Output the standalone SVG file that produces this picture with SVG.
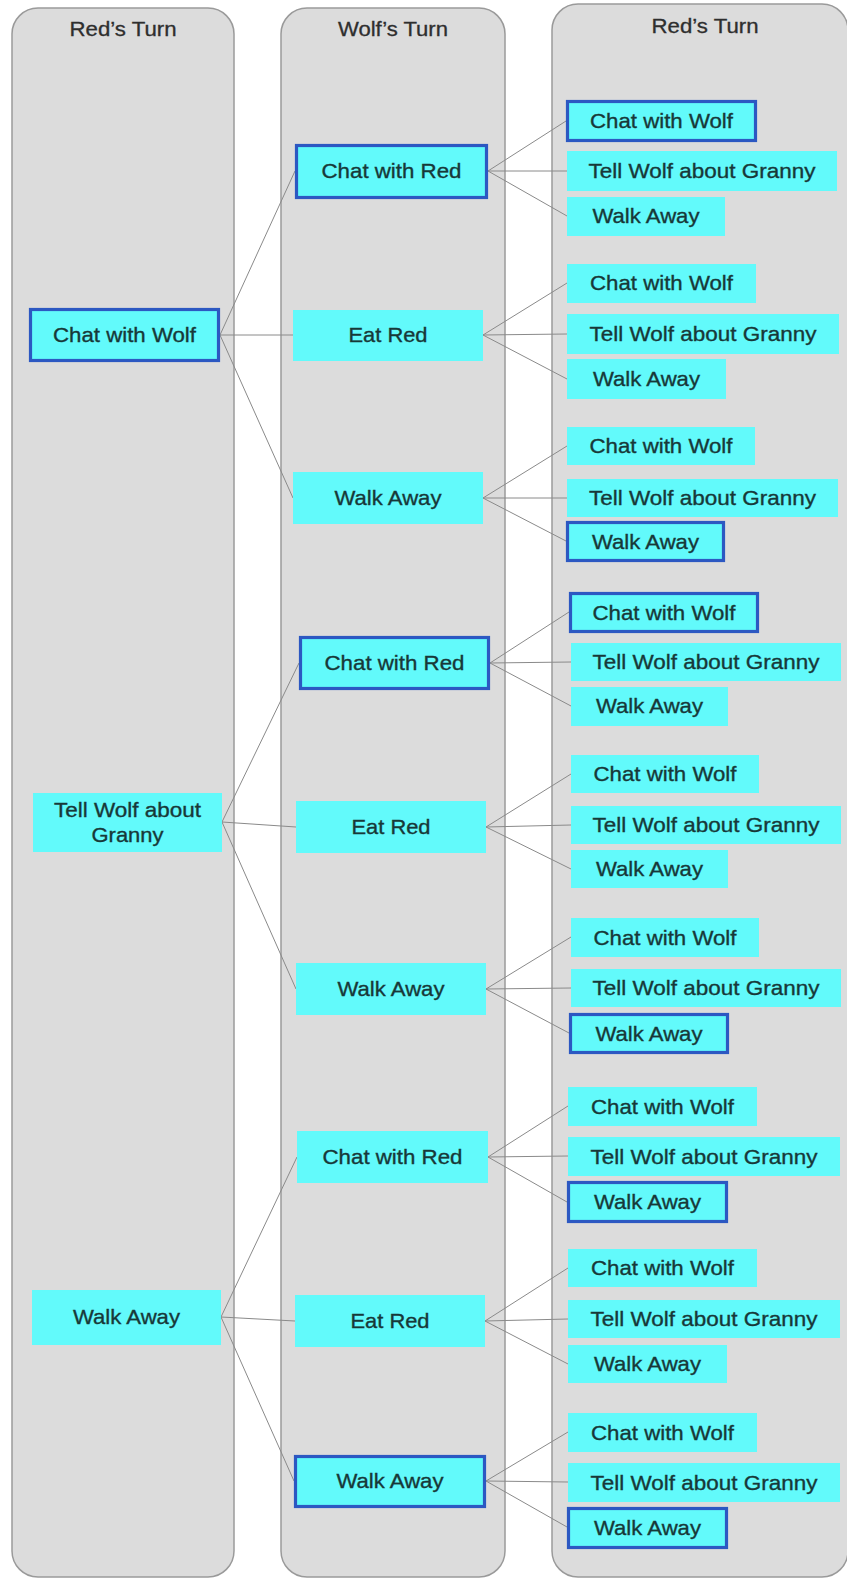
<svg xmlns="http://www.w3.org/2000/svg" width="847" height="1580" viewBox="0 0 847 1580">
<style>
.col{fill:#dcdcdc;stroke:#9a9a9a;stroke-width:1.5}
.ttl{font-family:"Liberation Sans",Arial,sans-serif;font-size:20px;fill:#2e2e2e;stroke:#2e2e2e;stroke-width:0.3;text-anchor:middle}
.box{fill:#62fafb}
.bold{fill:#62fafb;stroke:#2c58c2;stroke-width:3.2}
.t{font-family:"Liberation Sans",Arial,sans-serif;font-size:21px;fill:#173838;stroke:#173838;stroke-width:0.35;text-anchor:middle}
.cn line{stroke:#8a8a8a;stroke-width:1;fill:none}
</style>
<rect width="847" height="1580" fill="#ffffff"/>
<g id="lanes">
<rect class="col" x="12" y="8" width="222" height="1569" rx="26"/>
<rect class="col" x="281" y="8" width="224" height="1569" rx="26"/>
<rect class="col" x="552" y="4" width="296" height="1573" rx="26"/>
<text class="ttl" x="123" y="36" textLength="107" lengthAdjust="spacingAndGlyphs">Red’s Turn</text>
<text class="ttl" x="393" y="36" textLength="110" lengthAdjust="spacingAndGlyphs">Wolf’s Turn</text>
<text class="ttl" x="705" y="33" textLength="107" lengthAdjust="spacingAndGlyphs">Red’s Turn</text>
</g>
<g id="connectors" class="cn">
<line x1="220" y1="335" x2="295" y2="171"/>
<line x1="220" y1="335" x2="293" y2="335"/>
<line x1="220" y1="335" x2="293" y2="498"/>
<line x1="222" y1="822" x2="299" y2="663"/>
<line x1="222" y1="822" x2="296" y2="827"/>
<line x1="222" y1="822" x2="296" y2="989"/>
<line x1="221" y1="1317" x2="297" y2="1157"/>
<line x1="221" y1="1317" x2="295" y2="1321"/>
<line x1="221" y1="1317" x2="294" y2="1481"/>
<line x1="488" y1="171" x2="566" y2="121"/>
<line x1="488" y1="171" x2="567" y2="171"/>
<line x1="488" y1="171" x2="567" y2="216"/>
<line x1="483" y1="335" x2="567" y2="283"/>
<line x1="483" y1="335" x2="567" y2="334"/>
<line x1="483" y1="335" x2="567" y2="379"/>
<line x1="483" y1="498" x2="567" y2="446"/>
<line x1="483" y1="498" x2="567" y2="498"/>
<line x1="483" y1="498" x2="566" y2="541"/>
<line x1="490" y1="663" x2="569" y2="612"/>
<line x1="490" y1="663" x2="571" y2="662"/>
<line x1="490" y1="663" x2="571" y2="706"/>
<line x1="486" y1="827" x2="571" y2="774"/>
<line x1="486" y1="827" x2="571" y2="825"/>
<line x1="486" y1="827" x2="571" y2="869"/>
<line x1="486" y1="989" x2="571" y2="937"/>
<line x1="486" y1="989" x2="571" y2="988"/>
<line x1="486" y1="989" x2="569" y2="1033"/>
<line x1="488" y1="1157" x2="568" y2="1106"/>
<line x1="488" y1="1157" x2="568" y2="1156"/>
<line x1="488" y1="1157" x2="567" y2="1202"/>
<line x1="485" y1="1321" x2="568" y2="1268"/>
<line x1="485" y1="1321" x2="568" y2="1319"/>
<line x1="485" y1="1321" x2="568" y2="1364"/>
<line x1="486" y1="1481" x2="568" y2="1432"/>
<line x1="486" y1="1481" x2="568" y2="1482"/>
<line x1="486" y1="1481" x2="567" y2="1527"/>
</g>
<g id="n1a"><rect class="bold" x="30.5" y="309.5" width="188" height="51"/><text class="t" x="124.5" y="342" textLength="143" lengthAdjust="spacingAndGlyphs">Chat with Wolf</text></g>
<g id="n1b"><rect class="box" x="33" y="793" width="189" height="59"/><text class="t" x="127.5" y="817" textLength="147" lengthAdjust="spacingAndGlyphs">Tell Wolf about</text><text class="t" x="127.5" y="842" textLength="72" lengthAdjust="spacingAndGlyphs">Granny</text></g>
<g id="n1c"><rect class="box" x="32" y="1290" width="189" height="55"/><text class="t" x="126.5" y="1324" textLength="107" lengthAdjust="spacingAndGlyphs">Walk Away</text></g>
<g id="n2a"><rect class="bold" x="296.5" y="145.5" width="190" height="52"/><text class="t" x="391.5" y="178" textLength="140" lengthAdjust="spacingAndGlyphs">Chat with Red</text></g>
<g id="n2b"><rect class="box" x="293" y="310" width="190" height="51"/><text class="t" x="388" y="342" textLength="79" lengthAdjust="spacingAndGlyphs">Eat Red</text></g>
<g id="n2c"><rect class="box" x="293" y="472" width="190" height="52"/><text class="t" x="388" y="505" textLength="107" lengthAdjust="spacingAndGlyphs">Walk Away</text></g>
<g id="n2d"><rect class="bold" x="300.5" y="637.5" width="188" height="51"/><text class="t" x="394.5" y="670" textLength="140" lengthAdjust="spacingAndGlyphs">Chat with Red</text></g>
<g id="n2e"><rect class="box" x="296" y="801" width="190" height="52"/><text class="t" x="391" y="834" textLength="79" lengthAdjust="spacingAndGlyphs">Eat Red</text></g>
<g id="n2f"><rect class="box" x="296" y="963" width="190" height="52"/><text class="t" x="391" y="996" textLength="107" lengthAdjust="spacingAndGlyphs">Walk Away</text></g>
<g id="n2g"><rect class="box" x="297" y="1131" width="191" height="52"/><text class="t" x="392.5" y="1164" textLength="140" lengthAdjust="spacingAndGlyphs">Chat with Red</text></g>
<g id="n2h"><rect class="box" x="295" y="1295" width="190" height="52"/><text class="t" x="390" y="1328" textLength="79" lengthAdjust="spacingAndGlyphs">Eat Red</text></g>
<g id="n2i"><rect class="bold" x="295.5" y="1456.5" width="189" height="50"/><text class="t" x="390" y="1488" textLength="107" lengthAdjust="spacingAndGlyphs">Walk Away</text></g>
<g id="g1a"><rect class="bold" x="567.5" y="101.5" width="188" height="39"/><text class="t" x="661.5" y="128" textLength="143" lengthAdjust="spacingAndGlyphs">Chat with Wolf</text></g>
<g id="g1b"><rect class="box" x="567" y="151" width="270" height="40"/><text class="t" x="702" y="178" textLength="227" lengthAdjust="spacingAndGlyphs">Tell Wolf about Granny</text></g>
<g id="g1c"><rect class="box" x="567" y="197" width="158" height="39"/><text class="t" x="646" y="223" textLength="107" lengthAdjust="spacingAndGlyphs">Walk Away</text></g>
<g id="g2a"><rect class="box" x="567" y="264" width="189" height="39"/><text class="t" x="661.5" y="290" textLength="143" lengthAdjust="spacingAndGlyphs">Chat with Wolf</text></g>
<g id="g2b"><rect class="box" x="567" y="314" width="272" height="40"/><text class="t" x="703" y="341" textLength="227" lengthAdjust="spacingAndGlyphs">Tell Wolf about Granny</text></g>
<g id="g2c"><rect class="box" x="567" y="359" width="159" height="40"/><text class="t" x="646.5" y="386" textLength="107" lengthAdjust="spacingAndGlyphs">Walk Away</text></g>
<g id="g3a"><rect class="box" x="567" y="427" width="188" height="38"/><text class="t" x="661" y="453" textLength="143" lengthAdjust="spacingAndGlyphs">Chat with Wolf</text></g>
<g id="g3b"><rect class="box" x="567" y="479" width="271" height="38"/><text class="t" x="702.5" y="505" textLength="227" lengthAdjust="spacingAndGlyphs">Tell Wolf about Granny</text></g>
<g id="g3c"><rect class="bold" x="567.5" y="522.5" width="156" height="38"/><text class="t" x="645.5" y="549" textLength="107" lengthAdjust="spacingAndGlyphs">Walk Away</text></g>
<g id="g4a"><rect class="bold" x="570.5" y="593.5" width="187" height="38"/><text class="t" x="664" y="620" textLength="143" lengthAdjust="spacingAndGlyphs">Chat with Wolf</text></g>
<g id="g4b"><rect class="box" x="571" y="643" width="270" height="38"/><text class="t" x="706" y="669" textLength="227" lengthAdjust="spacingAndGlyphs">Tell Wolf about Granny</text></g>
<g id="g4c"><rect class="box" x="571" y="687" width="157" height="39"/><text class="t" x="649.5" y="713" textLength="107" lengthAdjust="spacingAndGlyphs">Walk Away</text></g>
<g id="g5a"><rect class="box" x="571" y="755" width="188" height="38"/><text class="t" x="665" y="781" textLength="143" lengthAdjust="spacingAndGlyphs">Chat with Wolf</text></g>
<g id="g5b"><rect class="box" x="571" y="806" width="270" height="38"/><text class="t" x="706" y="832" textLength="227" lengthAdjust="spacingAndGlyphs">Tell Wolf about Granny</text></g>
<g id="g5c"><rect class="box" x="571" y="850" width="157" height="38"/><text class="t" x="649.5" y="876" textLength="107" lengthAdjust="spacingAndGlyphs">Walk Away</text></g>
<g id="g6a"><rect class="box" x="571" y="918" width="188" height="39"/><text class="t" x="665" y="945" textLength="143" lengthAdjust="spacingAndGlyphs">Chat with Wolf</text></g>
<g id="g6b"><rect class="box" x="571" y="969" width="270" height="38"/><text class="t" x="706" y="995" textLength="227" lengthAdjust="spacingAndGlyphs">Tell Wolf about Granny</text></g>
<g id="g6c"><rect class="bold" x="570.5" y="1014.5" width="157" height="38"/><text class="t" x="649" y="1041" textLength="107" lengthAdjust="spacingAndGlyphs">Walk Away</text></g>
<g id="g7a"><rect class="box" x="568" y="1087" width="189" height="39"/><text class="t" x="662.5" y="1114" textLength="143" lengthAdjust="spacingAndGlyphs">Chat with Wolf</text></g>
<g id="g7b"><rect class="box" x="568" y="1137" width="272" height="39"/><text class="t" x="704" y="1164" textLength="227" lengthAdjust="spacingAndGlyphs">Tell Wolf about Granny</text></g>
<g id="g7c"><rect class="bold" x="568.5" y="1182.5" width="158" height="39"/><text class="t" x="647.5" y="1209" textLength="107" lengthAdjust="spacingAndGlyphs">Walk Away</text></g>
<g id="g8a"><rect class="box" x="568" y="1249" width="189" height="38"/><text class="t" x="662.5" y="1275" textLength="143" lengthAdjust="spacingAndGlyphs">Chat with Wolf</text></g>
<g id="g8b"><rect class="box" x="568" y="1300" width="272" height="38"/><text class="t" x="704" y="1326" textLength="227" lengthAdjust="spacingAndGlyphs">Tell Wolf about Granny</text></g>
<g id="g8c"><rect class="box" x="568" y="1345" width="159" height="38"/><text class="t" x="647.5" y="1371" textLength="107" lengthAdjust="spacingAndGlyphs">Walk Away</text></g>
<g id="g9a"><rect class="box" x="568" y="1413" width="189" height="39"/><text class="t" x="662.5" y="1440" textLength="143" lengthAdjust="spacingAndGlyphs">Chat with Wolf</text></g>
<g id="g9b"><rect class="box" x="568" y="1463" width="272" height="39"/><text class="t" x="704" y="1490" textLength="227" lengthAdjust="spacingAndGlyphs">Tell Wolf about Granny</text></g>
<g id="g9c"><rect class="bold" x="568.5" y="1508.5" width="158" height="39"/><text class="t" x="647.5" y="1535" textLength="107" lengthAdjust="spacingAndGlyphs">Walk Away</text></g>
</svg>
